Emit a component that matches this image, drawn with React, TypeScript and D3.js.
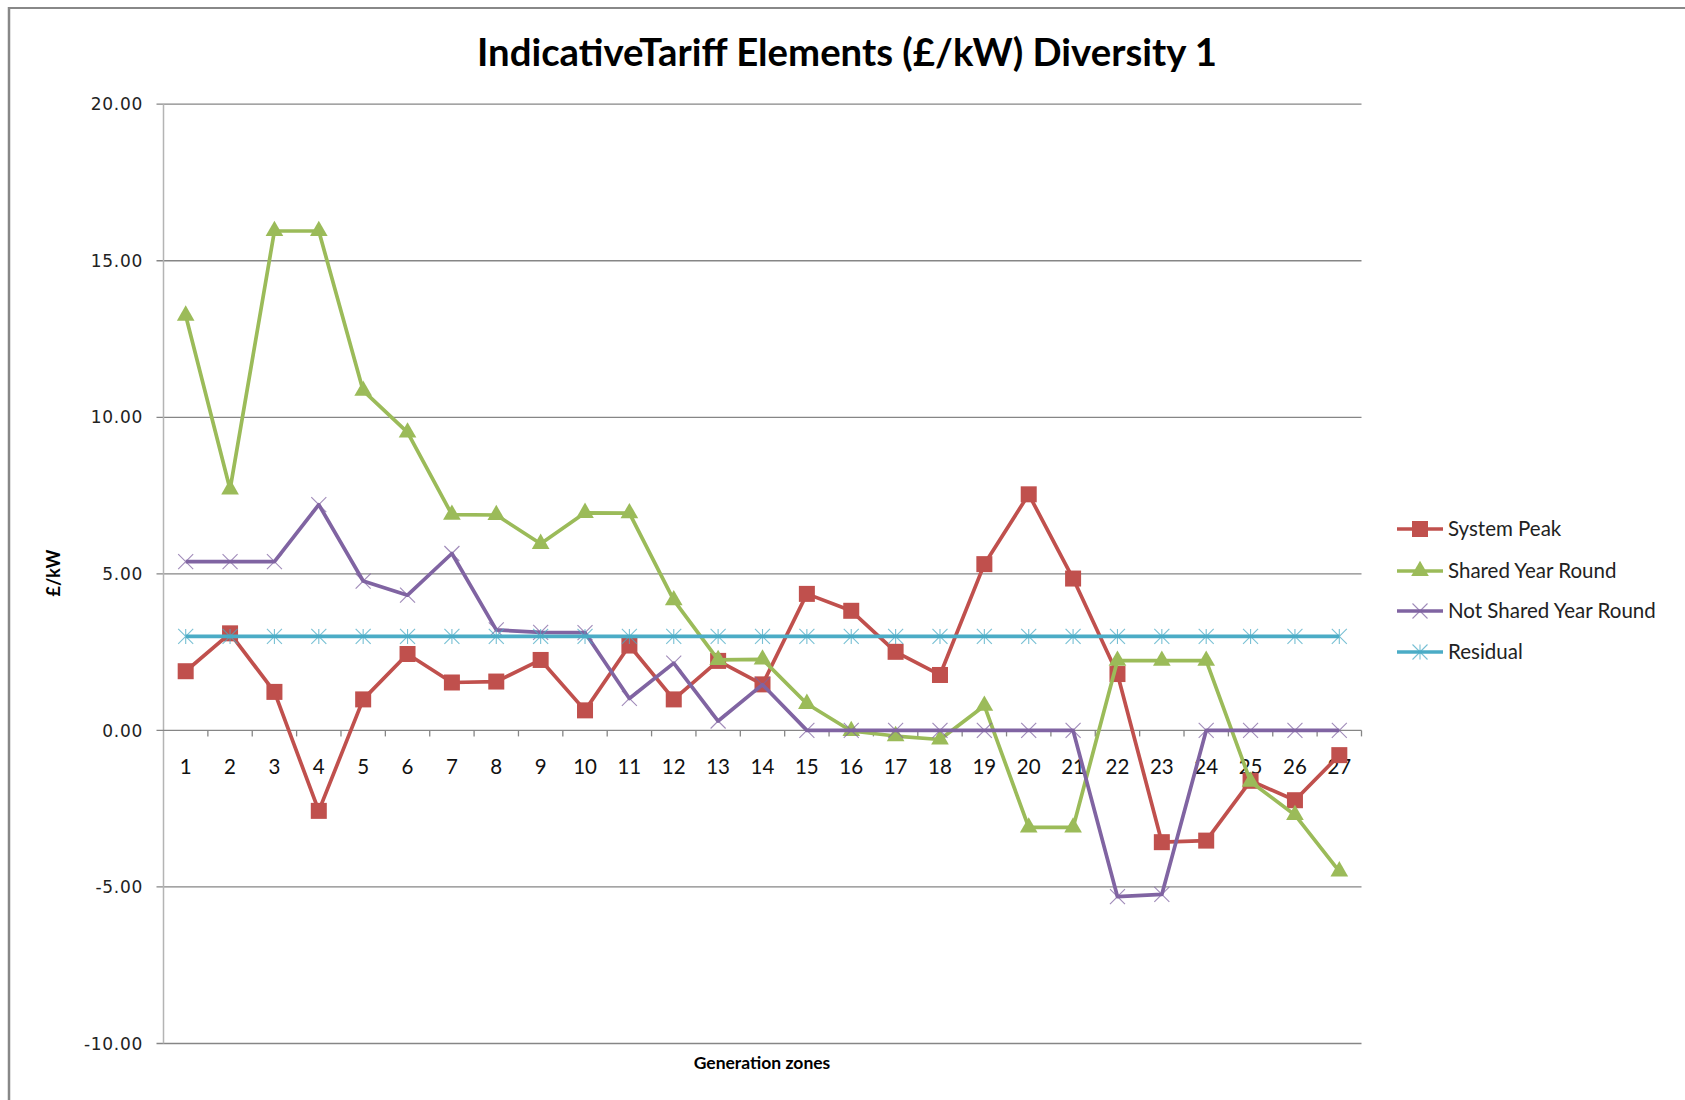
import React from "react";
import * as d3 from "d3";

const zones = d3.range(1, 28).map(String);
const systemPeak = [1.89, 3.1, 1.23, -2.57, 0.99, 2.44, 1.53, 1.56, 2.25, 0.64, 2.71, 0.99, 2.22, 1.47, 4.36, 3.82, 2.51, 1.77, 5.31, 7.54, 4.85, 1.8, -3.57, -3.52, -1.61, -2.23, -0.79];
const sharedYearRound = [13.25, 7.7, 15.95, 15.95, 10.85, 9.52, 6.89, 6.88, 5.96, 6.95, 6.94, 4.16, 2.25, 2.27, 0.85, -0.02, -0.18, -0.29, 0.79, -3.1, -3.1, 2.23, 2.23, 2.23, -1.64, -2.7, -4.5];
const notSharedYearRound = [5.39, 5.39, 5.39, 7.21, 4.77, 4.32, 5.65, 3.21, 3.13, 3.12, 1.02, 2.15, 0.3, 1.46, 0, 0, 0, 0, 0, 0, 0, -5.31, -5.24, 0, 0, 0, 0];
const residual = [3, 3, 3, 3, 3, 3, 3, 3, 3, 3, 3, 3, 3, 3, 3, 3, 3, 3, 3, 3, 3, 3, 3, 3, 3, 3, 3];
const yTicks = [20, 15, 10, 5, 0, -5, -10];

const series = [
  { name: "System Peak", values: systemPeak, color: "#C0504D", marker: "square" },
  { name: "Shared Year Round", values: sharedYearRound, color: "#9BBB59", marker: "triangle" },
  { name: "Not Shared Year Round", values: notSharedYearRound, color: "#8064A2", marker: "x" },
  { name: "Residual", values: residual, color: "#4BACC6", marker: "star" },
];

const W = 1685;
const H = 1100;
const plot = { left: 163.5, right: 1361.5, top: 104.2, bottom: 1043.5 };

const Marker = ({ type, cx, cy, color }: { type: string; cx: number; cy: number; color: string }) => {
  if (type === "square") {
    return <rect x={cx - 8} y={cy - 8} width={16} height={16} fill={color} />;
  }
  if (type === "triangle") {
    const tri = d3.symbol(d3.symbolTriangle, 135)();
    return <path d={tri || ""} transform={`translate(${cx},${cy})`} fill={color} />;
  }
  const r = 7.5;
  const lines = [
    [-r, -r, r, r],
    [-r, r, r, -r],
  ];
  if (type === "star") lines.push([0, -r, 0, r]);
  return (
    <g transform={`translate(${cx},${cy})`} stroke={color} strokeWidth={1.1} opacity={0.75}>
      {lines.map((l, i) => (
        <line key={i} x1={l[0]} y1={l[1]} x2={l[2]} y2={l[3]} />
      ))}
    </g>
  );
};

export default function App() {
  const x = d3.scaleBand().domain(zones).range([plot.left, plot.right]).padding(0);
  const y = d3.scaleLinear().domain([-10, 20]).range([plot.bottom, plot.top]);
  const cx = (z: string) => (x(z) as number) + x.bandwidth() / 2;

  const line = d3
    .line<number>()
    .x((_, i) => cx(zones[i]))
    .y((d) => y(d));

  const legendY = [529, 571, 611, 652];

  return (
    <svg width={W} height={H} style={{ position: "absolute", left: 0, top: 0 }}>
      <rect width={W} height={H} fill="#fff" />
      {/* chart border */}
      <line x1={9} y1={8} x2={W} y2={8} stroke="#888" strokeWidth={2} />
      <line x1={9} y1={7} x2={9} y2={H} stroke="#888" strokeWidth={2.5} />

      <text
        x={847}
        y={66}
        textAnchor="middle"
        fontFamily="Lato, sans-serif"
        fontWeight="bold"
        fontSize={38}
        textLength={740}
        lengthAdjust="spacingAndGlyphs"
      >
        IndicativeTariff Elements (£/kW) Diversity 1
      </text>

      {/* gridlines and y labels */}
      {yTicks.map((t) => (
        <g key={t}>
          {t !== 0 && (
            <line x1={156.5} x2={plot.right} y1={y(t)} y2={y(t)} stroke="#868686" strokeWidth={1.3} />
          )}
          <text
            x={143}
            y={y(t)}
            dy="0.36em"
            textAnchor="end"
            fontFamily="DejaVu Sans, sans-serif"
            fontSize={17}
            letterSpacing={0.7}
            fill="#222"
          >
            {t.toFixed(2)}
          </text>
        </g>
      ))}

      {/* y axis */}
      <line x1={plot.left} x2={plot.left} y1={plot.top} y2={plot.bottom} stroke="#b4b4b4" strokeWidth={1.5} />

      {/* x axis at zero */}
      <line x1={156.5} x2={plot.right} y1={y(0)} y2={y(0)} stroke="#868686" strokeWidth={1.3} />
      {zones.map((z) => (
        <line
          key={"t" + z}
          x1={(x(z) as number) + x.bandwidth()}
          x2={(x(z) as number) + x.bandwidth()}
          y1={y(0)}
          y2={y(0) + 6}
          stroke="#868686"
          strokeWidth={1.3}
        />
      ))}
      {zones.map((z) => (
        <text
          key={"l" + z}
          x={cx(z)}
          y={y(0) + 44}
          textAnchor="middle"
          fontFamily="Lato, sans-serif"
          fontSize={20.5}
          fill="#111"
        >
          {z}
        </text>
      ))}

      {/* series */}
      {series.map((s) => (
        <g key={s.name}>
          <path d={line(s.values) || ""} fill="none" stroke={s.color} strokeWidth={3.7} strokeLinejoin="round" />
          {s.values.map((v, i) => (
            <Marker key={i} type={s.marker} cx={cx(zones[i])} cy={y(v)} color={s.color} />
          ))}
        </g>
      ))}

      {/* axis titles */}
      <text
        transform={`translate(60,573) rotate(-90)`}
        textAnchor="middle"
        fontFamily="Lato, sans-serif"
        fontWeight="bold"
        fontSize={18}
      >
        £/kW
      </text>
      <text x={762} y={1069} textAnchor="middle" fontFamily="Lato, sans-serif" fontWeight="bold" fontSize={17.5}>
        Generation zones
      </text>

      {/* legend */}
      {series.map((s, i) => (
        <g key={"lg" + s.name}>
          <line x1={1397} x2={1443} y1={legendY[i]} y2={legendY[i]} stroke={s.color} strokeWidth={3.7} />
          <Marker type={s.marker} cx={1420} cy={legendY[i]} color={s.color} />
          <text
            x={1448}
            y={legendY[i]}
            dy="0.35em"
            fontFamily="Lato, sans-serif"
            fontSize={20.5}
            fill="#222"
          >
            {s.name}
          </text>
        </g>
      ))}
    </svg>
  );
}
